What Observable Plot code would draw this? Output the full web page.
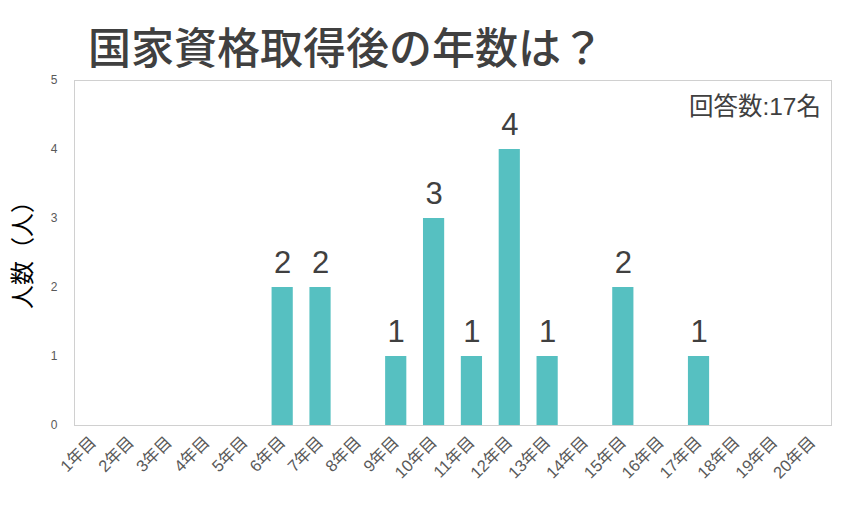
<!DOCTYPE html>
<html>
<head>
<meta charset="utf-8">
<script src="https://cdn.jsdelivr.net/npm/d3@7"></script>
<script src="https://cdn.jsdelivr.net/npm/@observablehq/plot@0.6"></script>
<style>
  body { margin: 0; background: #fff; font-family: "Liberation Sans", "Noto Sans CJK JP", sans-serif; }
  #wrap { position: relative; width: 848px; height: 507px; }
  #title { position: absolute; left: 88px; top: 14px; font-size: 43px; font-weight: 500; color: #404040; white-space: nowrap; font-family: "Noto Sans CJK JP", sans-serif; }
  #chart { position: absolute; left: 0; top: 70px; }
  #note { position: absolute; right: 27px; top: 87px; font-size: 24.5px; color: #404040; white-space: nowrap; }
</style>
</head>
<body>
<div id="wrap">
  <div id="title">国家資格取得後の年数は？</div>
  <div id="chart"></div>
  <div id="note">回答数:17名</div>
</div>
<script>
const categories = ["1年目","2年目","3年目","4年目","5年目","6年目","7年目","8年目","9年目","10年目","11年目","12年目","13年目","14年目","15年目","16年目","17年目","18年目","19年目","20年目"];
const counts = [0,0,0,0,0,2,2,0,1,3,1,4,1,0,2,0,1,0,0,0];
const yTicks = [0,1,2,3,4,5];
const yLabel = "人数（人）";

const data = categories.map((c, i) => ({cat: c, n: counts[i]}));
const nonzero = data.filter(d => d.n > 0);

const chart = Plot.plot({
  width: 848,
  height: 437,
  marginTop: 10,
  marginBottom: 82,
  marginLeft: 74,
  marginRight: 17,
  style: {fontFamily: "'Liberation Sans', 'Noto Sans CJK JP', sans-serif", color: "#595959", background: "transparent"},
  x: {domain: categories, paddingInner: 0.44, paddingOuter: 0.22, round: false, label: null},
  y: {domain: [0, 5], label: null},
  marks: [
    Plot.barY(nonzero, {x: "cat", y: "n", fill: "#56c0c1"}),
    Plot.frame({stroke: "#d0d0d0", strokeWidth: 1}),
    Plot.axisY({ticks: yTicks, tickFormat: "d", tickSize: 0, tickPadding: 17, fontSize: 12, label: null, fill: "#595959"}),
    Plot.axisX({tickSize: 0, tickPadding: 14, tickRotate: -45, textAnchor: "end", fontSize: 16.5, fill: "#595959", label: null}),
    Plot.text(nonzero, {x: "cat", y: "n", text: d => String(d.n), lineAnchor: "bottom", dy: -15, fontSize: 31, fill: "#404040"}),
    Plot.text([yLabel], {frameAnchor: "left", textAnchor: "middle", dx: -51, dy: -4, rotate: -90, fontSize: 24, fill: "#000", fontFamily: "'Noto Sans CJK JP', sans-serif"})
  ]
});
document.getElementById("chart").appendChild(chart);
</script>
</body>
</html>
